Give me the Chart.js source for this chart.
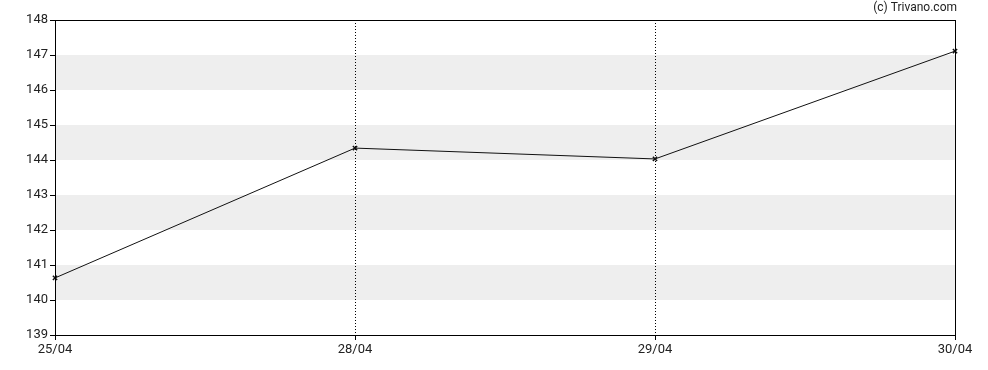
<!DOCTYPE html>
<html>
<head>
<meta charset="utf-8">
<script src="https://cdn.jsdelivr.net/npm/chart.js@4/dist/chart.umd.min.js"></script>
<style>
  html, body { margin: 0; padding: 0; background: #fff; }
  #wrap { width: 988px; height: 370px; position: relative; }
</style>
</head>
<body>
<div id="wrap"><canvas id="myChart"></canvas></div>
<script>
// data
var dates = ["25/04", "28/04", "29/04", "30/04"];
var prices = [140.63, 144.34, 144.03, 147.11];
var yTicks = [139, 140, 141, 142, 143, 144, 145, 146, 147, 148];

// grey bands, dotted day lines, frame and copyright
var decorations = {
  id: "decorations",
  beforeDatasetsDraw: function (chart) {
    var ctx = chart.ctx;
    var area = chart.chartArea;
    var x = chart.scales.x;
    var y = chart.scales.y;
    ctx.save();
    ctx.fillStyle = "#eeeeee";
    for (var i = 0; i < yTicks.length - 1; i++) {
      if (yTicks[i] % 2 == 0) {
        var top = y.getPixelForValue(yTicks[i + 1]);
        var bottom = y.getPixelForValue(yTicks[i]);
        ctx.fillRect(area.left, top, area.right - area.left, bottom - top);
      }
    }
    ctx.strokeStyle = "#000";
    ctx.lineWidth = 1;
    ctx.setLineDash([1, 2]);
    for (var j = 1; j < dates.length - 1; j++) {
      var px = Math.round(x.getPixelForValue(j)) + 0.5;
      ctx.beginPath();
      ctx.moveTo(px, area.top);
      ctx.lineTo(px, area.bottom);
      ctx.stroke();
    }
    ctx.restore();
  },
  afterDraw: function (chart) {
    var ctx = chart.ctx;
    var area = chart.chartArea;
    ctx.save();
    ctx.strokeStyle = "#000";
    ctx.lineWidth = 1;
    ctx.strokeRect(Math.round(area.left) + 0.5, Math.round(area.top) + 0.5,
      Math.round(area.right - area.left), Math.round(area.bottom - area.top));
    ctx.fillStyle = "#222";
    ctx.font = "12px Roboto";
    ctx.textAlign = "right";
    ctx.textBaseline = "middle";
    ctx.fillText("(c) Trivano.com", 957, 8);
    ctx.restore();
  }
};

var ctx = document.getElementById("myChart").getContext("2d");
var chart = new Chart(ctx, {
  type: "line",
  data: {
    labels: dates,
    datasets: [
      {
        data: prices,
        borderColor: "#111",
        borderWidth: 1,
        pointStyle: "crossRot",
        pointRadius: 3,
        pointBorderWidth: 1.5,
        pointBorderColor: "#111",
        fill: false,
        tension: 0
      }
    ]
  },
  options: {
    responsive: true,
    maintainAspectRatio: false,
    animation: false,
    layout: { padding: { top: 20, right: 33, left: 0, bottom: 0 } },
    plugins: {
      legend: { display: false },
      tooltip: { enabled: false }
    },
    scales: {
      x: {
        offset: false,
        grid: { drawOnChartArea: false, color: "#000", tickLength: 5 },
        border: { display: true, color: "#000" },
        ticks: { color: "#222", font: { family: "Roboto", size: 13 }, padding: 2, maxRotation: 0 },
        afterFit: function (scale) { scale.height = 35; }
      },
      y: {
        min: 139,
        max: 148,
        afterBuildTicks: function (scale) {
          scale.ticks = yTicks.map(function (v) { return { value: v }; });
        },
        grid: { drawOnChartArea: false, color: "#000", tickLength: 5 },
        border: { display: true, color: "#000" },
        ticks: { color: "#222", font: { family: "Roboto", size: 13 }, padding: 2 },
        afterFit: function (scale) { scale.width = 55; }
      }
    }
  },
  plugins: [decorations]
});
</script>
</body>
</html>
